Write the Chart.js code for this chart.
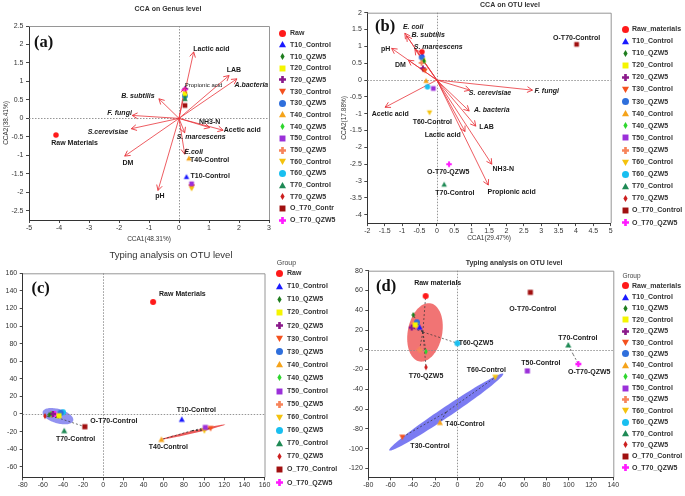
<!DOCTYPE html>
<html lang="en">
<head>
    <meta charset="UTF-8">
    <title>CCA and typing analysis</title>
    <script src="https://cdn.jsdelivr.net/npm/chart.js@4.4.0/dist/chart.umd.min.js"></script>
    <style>
        body {
            margin: 0;
            background: #fff;
            width: 685px;
            height: 496px;
            position: relative;
            overflow: hidden;
            font-family: Arial, "Liberation Sans", sans-serif;
        }
        canvas {
            position: absolute;
        }
    </style>
</head>
<body>
    <canvas id="chartA" width="345" height="246" style="left:0;top:0"></canvas>
    <canvas id="chartB" width="345" height="246" style="left:340px;top:0"></canvas>
    <canvas id="chartC" width="345" height="256" style="left:0;top:240px"></canvas>
    <canvas id="chartD" width="345" height="256" style="left:340px;top:240px"></canvas>

    <script>
        const FONT = 'Arial, "Liberation Sans", sans-serif';

        // groups (same order in every panel)
        const groupColors = ['#ff1a1a', '#1a1aff', '#1e7d1e', '#f5f500', '#8b1a8b', '#f4511e', '#2f6fdc', '#f5a31a',
            '#2ed62e', '#9b30d9', '#f7845a', '#f4c20d', '#19bff0', '#1f8a55', '#cc1f1f', '#a01010', '#ff1aff'];
        const groupShapes = ['circle', 'triangle', 'diamond', 'square', 'plus', 'invtri', 'circle', 'triangle',
            'diamond', 'square', 'plus', 'invtri', 'circle', 'triangle', 'diamond', 'square', 'plus'];

        const legendGenus = ['Raw', 'T10_Control', 'T10_QZW5', 'T20_Control', 'T20_QZW5', 'T30_Control', 'T30_QZW5',
            'T40_Control', 'T40_QZW5', 'T50_Control', 'T50_QZW5', 'T60_Control', 'T60_QZW5', 'T70_Control', 'T70_QZW5',
            'O_T70_Contr', 'O_T70_QZW5'];
        const legendOtu = ['Raw_materials', 'T10_Control', 'T10_QZW5', 'T20_Control', 'T20_QZW5', 'T30_Control', 'T30_QZW5',
            'T40_Control', 'T40_QZW5', 'T50_Control', 'T50_QZW5', 'T60_Control', 'T60_QZW5', 'T70_Control', 'T70_QZW5',
            'O_T70_Control', 'O_T70_QZW5'];
        const legendTypingC = ['Raw', 'T10_Control', 'T10_QZW5', 'T20_Control', 'T20_QZW5', 'T30_Control', 'T30_QZW5',
            'T40_Control', 'T40_QZW5', 'T50_Control', 'T50_QZW5', 'T60_Control', 'T60_QZW5', 'T70_Control', 'T70_QZW5',
            'O_T70_Control', 'O_T70_QZW5'];
        const legendTypingD = legendOtu;

        // (a) CCA on genus level
        const genusX = [-4.1, 0.25, 0.2, 0.2, 0.21, 0.42, 0.2, 0.33, 0.2, 0.42, 0.42, 0.42, 0.2, 0.2, 0.2, 0.2, 0.18];
        const genusY = [-0.45, -1.58, 0.6, 0.67, 0.8, -1.86, 0.62, -1.08, 0.56, -1.77, -1.8, -1.9, 0.6, 0.53, 0.55, 0.35, 0.77];
        const genusFront = [16, 3, 13, 15, 9, 11, 0, 1, 7];
        const genusFactors = ['Lactic acid', 'LAB', 'A.bacteria', 'Propionic acid', 'B. subtilis', 'F. fungi',
            'S.cerevisiae', 'DM', 'pH', 'E.coli', 'S. marcescens', 'NH3-N', 'Acetic acid'];
        const genusFactorX = [0.49, 1.67, 1.93, 0.19, -0.67, -1.56, -1.59, -1.81, -0.7, 0.19, 0.19, 1.02, 1.47];
        const genusFactorY = [1.8, 1.16, 1.07, 0.83, 0.53, 0.08, -0.28, -1.02, -1.95, -0.97, -0.39, -0.25, -0.32];
        const genusTicksX = [-5, -4, -3, -2, -1, 0, 1, 2, 3];
        const genusTicksY = [2.5, 2, 1.5, 1, 0.5, 0, -0.5, -1, -1.5, -2, -2.5];

        // (b) CCA on OTU level
        const otuX = [-0.43, -0.42, -0.37, -0.4, -0.4, -0.34, -0.44, -0.31, -0.36, -0.1, -0.44, -0.21, -0.27, 0.21, -0.39, 4.02, 0.35];
        const otuY = [0.84, 0.75, 0.57, 0.6, 0.35, 0.28, 0.67, -0.02, 0.55, -0.25, 0.51, -0.97, -0.2, -3.1, 0.3, 1.06, -2.5];
        const otuFront = [0, 6, 2, 10, 14, 5, 7, 9, 11, 12, 13, 15, 16];
        const otuFactors = ['E. coli', 'B. subtilis', 'S. marcescens', 'pH', 'DM', 'Acetic acid', 'S. cerevisiae',
            'F. fungi', 'A. bacteria', 'LAB', 'Lactic acid', 'NH3-N', 'Propionic acid'];
        const otuFactorX = [-0.92, -0.87, -0.63, -1.3, -0.82, -1.49, 0.95, 2.75, 0.93, 1.12, 0.81, 1.58, 1.48];
        const otuFactorY = [1.39, 1.31, 0.91, 0.94, 0.59, -0.81, -0.3, -0.3, -0.92, -1.37, -1.53, -2.5, -3.12];
        const otuTicksX = [-2, -1.5, -1, -0.5, 0, 0.5, 1, 1.5, 2, 2.5, 3, 3.5, 4, 4.5, 5];
        const otuTicksY = [2, 1.5, 1, 0.5, 0, -0.5, -1, -1.5, -2, -2.5, -3, -3.5, -4];

        // (c) typing analysis
        const typingCX = [49.4, 77.9, -53.6, -44, -50, 106.5, -42.4, 57.7, -52, 101.3, -51.3, 100.3, -40, -38.8, -57.9, -18.3, -48];
        const typingCY = [127.4, -6.1, -1, -2, 0, -16.4, 1.4, -29, 0, -15.3, -0.5, -19, 2, -19, -2.4, -14.5, 0];
        const typingCTicksX = [-80, -60, -40, -20, 0, 20, 40, 60, 80, 100, 120, 140, 160];
        const typingCTicksY = [160, 140, 120, 100, 80, 60, 40, 20, 0, -20, -40, -60];
        const typingCLinkCentres = [[-46, -4], [88, -19]];
        const typingCLinkMembers = [[2, 3, 4, 6, 8, 10, 12, 14, 16, 15], [5, 7, 9, 11]];

        // (d) typing analysis
        const typingDX = [-28.5, -33.9, -39.6, -37.8, -41, -49.5, -36.3, -15.7, -28.2, 62.8, -34, 34, 0, 99.6, -28.2, 65.5, 108.6];
        const typingDY = [54.4, 22.8, 35.2, 25.2, 22.5, -88.4, 27.8, -73.6, -1.8, -21.4, 0, -27.8, 6.6, 4.9, -17.7, 58.1, -14.4];
        const typingDTicksX = [-80, -60, -40, -20, 0, 20, 40, 60, 80, 100, 120, 140];
        const typingDTicksY = [80, 60, 40, 20, 0, -20, -40, -60, -80, -100, -120];
        const typingDLinkCentres = [[-31, 18], [-10, -63], [104, -4.7]];
        const typingDLinkMembers = [[0, 1, 2, 3, 4, 6, 8, 10, 12, 14], [5, 7, 11], [13, 16]];

        // text placed next to points and arrows (data units)
        const genusNotes = [
            ['Lactic acid', 1.08, 1.87, 'b'], ['LAB', 1.83, 1.32, 'b'], ['A.bacteria', 2.41, 0.91, 'i'],
            ['Propionic acid', 0.82, 0.89, 's'], ['B. subtilis', -1.37, 0.6, 'i'], ['F. fungi', -1.98, 0.15, 'i'],
            ['S.cerevisiae', -2.37, -0.37, 'i'], ['DM', -1.7, -1.2, 'b'], ['pH', -0.64, -2.1, 'b'],
            ['E.coli', 0.49, -0.9, 'i'], ['S. marcescens', 0.74, -0.5, 'i'], ['NH3-N', 1.02, -0.09, 'b'],
            ['Acetic acid', 2.11, -0.32, 'b'], ['Raw Materials', -3.48, -0.68, 'b'],
            ['T40-Control', 1.02, -1.14, 'b'], ['T10-Control', 1.04, -1.57, 'b']
        ];
        const otuNotes = [
            ['E. coli', -0.68, 1.56, 'i'], ['B. subtilis', -0.25, 1.35, 'i'], ['S. marcescens', 0.04, 0.98, 'i'],
            ['pH', -1.47, 0.92, 'b'], ['DM', -1.05, 0.43, 'b'], ['Acetic acid', -1.34, -1.02, 'b'],
            ['S. cerevisiae', 1.53, -0.4, 'i'], ['F. fungi', 3.16, -0.32, 'i'], ['A. bacteria', 1.58, -0.89, 'i'],
            ['LAB', 1.43, -1.41, 'b'], ['Lactic acid', 0.17, -1.63, 'b'], ['NH3-N', 1.91, -2.65, 'b'],
            ['Propionic acid', 2.15, -3.32, 'b'], ['O-T70-Control', 4.02, 1.24, 'b'],
            ['O-T70-QZW5', 0.33, -2.72, 'b'], ['T70-Control', 0.52, -3.35, 'b'], ['T60-Control', -0.13, -1.24, 'b']
        ];
        const typingCNotes = [
            ['Raw Materials', 78.5, 136.5, 'b'], ['T10-Control', 92.3, 4.5, 'b'], ['T40-Control', 64.6, -38, 'b'],
            ['O-T70-Control', 10.5, -7.7, 'b'], ['T70-Control', -27.5, -28.9, 'b']
        ];
        const typingDNotes = [
            ['Raw materials', -17.7, 67.9, 'b'], ['O-T70-Control', 67.6, 41.3, 'b'], ['T70-Control', 108.2, 11.6, 'b'],
            ['O-T70-QZW5', 118.4, -22.4, 'b'], ['T50-Control', 75, -13.9, 'b'], ['T60-Control', 26, -20.7, 'b'],
            ['T40-Control', 6.8, -75.2, 'b'], ['T30-Control', -24.6, -97.8, 'b'], ['T60-QZW5', 16.7, 7.3, 'b'],
            ['T70-QZW5', -28.2, -26.4, 'b']
        ];

        // group ellipses: centre, half major axis vector, half minor length (data units)
        const typingCEllipses = [
            { cx: -45, cy: -2.5, ux: 15, uy: -5.5, b: 8, color: 'rgba(110,110,235,0.75)' },
            { cx: 89, cy: -20.5, ux: 32, uy: 8.5, b: 1.5, color: 'rgba(230,60,60,0.85)' }
        ];
        const typingDEllipses = [
            { cx: -29.1, cy: 17.6, ux: 4.5, uy: 29.5, b: 15.5, color: 'rgba(238,85,85,0.82)' },
            { cx: -10, cy: -63, ux: 51.2, uy: 38.8, b: 5, color: 'rgba(100,100,240,0.85)' }
        ];

        const arrowRed = '#e8333a';

        function symbol(shape, color, size) {
            const c = document.createElement('canvas');
            const s = Math.ceil(size) + 2;
            c.width = s;
            c.height = s;
            const g = c.getContext('2d');
            const m = s / 2, r = size / 2;
            g.fillStyle = color;
            g.beginPath();
            if (shape === 'circle') {
                g.arc(m, m, r, 0, Math.PI * 2);
            } else if (shape === 'square') {
                g.rect(m - r * 0.85, m - r * 0.85, r * 1.7, r * 1.7);
            } else if (shape === 'triangle') {
                g.moveTo(m, m - r); g.lineTo(m + r, m + r * 0.8); g.lineTo(m - r, m + r * 0.8);
            } else if (shape === 'invtri') {
                g.moveTo(m - r, m - r * 0.8); g.lineTo(m + r, m - r * 0.8); g.lineTo(m, m + r);
            } else if (shape === 'diamond') {
                g.moveTo(m, m - r); g.lineTo(m + r * 0.6, m); g.lineTo(m, m + r); g.lineTo(m - r * 0.6, m);
            } else if (shape === 'plus') {
                const w = r * 0.38;
                g.rect(m - r, m - w, 2 * r, 2 * w);
                g.rect(m - w, m - r, 2 * w, 2 * r);
            }
            g.closePath();
            g.fill();
            return c;
        }

        function groupSets(labels, xs, ys, size, front) {
            return labels.map((lab, i) => ({
                label: lab,
                group: true,
                data: [{ x: xs[i], y: ys[i] }],
                pointStyle: symbol(groupShapes[i], groupColors[i], size),
                legendSymbol: symbol(groupShapes[i], groupColors[i], 7),
                pointRadius: 3,
                order: front && front.includes(i) ? -1 : 0
            }));
        }

        function arrowSets(xs, ys) {
            return xs.map((ex, i) => ({
                arrow: true,
                showLine: true,
                data: [{ x: 0, y: 0 }, { x: ex, y: ys[i] }],
                borderColor: arrowRed,
                borderWidth: 0.8,
                pointRadius: 0,
                order: 2
            }));
        }

        function linkSets(centres, members, xs, ys) {
            const sets = [];
            centres.forEach((c, k) => {
                members[k].forEach(i => {
                    sets.push({
                        showLine: true,
                        data: [{ x: c[0], y: c[1] }, { x: xs[i], y: ys[i] }],
                        borderColor: '#333',
                        borderWidth: 0.7,
                        borderDash: [2, 2],
                        pointRadius: 0,
                        order: 2
                    });
                });
            });
            return sets;
        }

        // drawing settings per canvas (pixels)
        const panels = {
            chartA: {
                title: ['CCA on Genus level', 168, 9.3, 'bold 7px'], letter: ['(a)', 34, 43],
                legend: { sx: 282.7, tx: 290, y0: 33.3, dy: 11.67 }, notes: genusNotes
            },
            chartB: {
                title: ['CCA on OTU level', 170, 4.6, 'bold 7px'], letter: ['(b)', 35, 27],
                legend: { sx: 285, tx: 292, y0: 29, dy: 12.1 }, notes: otuNotes
            },
            chartC: {
                title: ['Typing analysis on OTU level', 171, 15, '9.5px'], letter: ['(c)', 31.5, 48.3],
                legend: { sx: 279.3, tx: 287, y0: 33.3, dy: 13.08, head: ['Group', 276.7, 23.3, '7px'] },
                notes: typingCNotes, ellipses: typingCEllipses
            },
            chartD: {
                title: ['Typing analysis on OTU level', 174, 22.7, 'bold 7px'], letter: ['(d)', 36, 46.7],
                legend: { sx: 285.3, tx: 292, y0: 45.7, dy: 11.375, head: ['Group', 282.5, 36.7, '6.5px'] },
                notes: typingDNotes, ellipses: typingDEllipses
            }
        };

        const noteFonts = { b: 'bold 7px ', i: 'italic bold 7px ', s: '6px ' };

        const decor = {
            id: 'decor',
            beforeDatasetsDraw(chart) {
                const p = panels[chart.canvas.id];
                const { ctx, chartArea: a } = chart;
                const sx = chart.scales.x, sy = chart.scales.y;
                ctx.save();
                (p.ellipses || []).forEach(e => {
                    const len = Math.hypot(e.ux, e.uy);
                    const px = -e.uy / len * e.b, py = e.ux / len * e.b;
                    ctx.beginPath();
                    for (let i = 0; i <= 90; i++) {
                        const t = i / 90 * Math.PI * 2;
                        const X = sx.getPixelForValue(e.cx + e.ux * Math.cos(t) + px * Math.sin(t));
                        const Y = sy.getPixelForValue(e.cy + e.uy * Math.cos(t) + py * Math.sin(t));
                        if (i === 0) ctx.moveTo(X, Y); else ctx.lineTo(X, Y);
                    }
                    ctx.fillStyle = e.color;
                    ctx.fill();
                });
                const x0 = Math.round(sx.getPixelForValue(0)) + 0.5;
                const y0 = Math.round(sy.getPixelForValue(0)) + 0.5;
                ctx.strokeStyle = '#8a8a8a';
                ctx.lineWidth = 0.9;
                ctx.setLineDash([1.5, 1.5]);
                ctx.beginPath();
                ctx.moveTo(x0, a.top); ctx.lineTo(x0, a.bottom);
                ctx.moveTo(a.left, y0); ctx.lineTo(a.right, y0);
                ctx.stroke();
                ctx.restore();
            },
            afterDatasetsDraw(chart) {
                const { ctx } = chart;
                const sx = chart.scales.x, sy = chart.scales.y;
                ctx.save();
                ctx.strokeStyle = arrowRed;
                ctx.lineWidth = 0.9;
                chart.data.datasets.forEach(ds => {
                    if (!ds.arrow) return;
                    const x0 = sx.getPixelForValue(ds.data[0].x), y0 = sy.getPixelForValue(ds.data[0].y);
                    const x1 = sx.getPixelForValue(ds.data[1].x), y1 = sy.getPixelForValue(ds.data[1].y);
                    const ang = Math.atan2(y1 - y0, x1 - x0);
                    const L = 6;
                    ctx.beginPath();
                    ctx.moveTo(x1 - L * Math.cos(ang - 0.5), y1 - L * Math.sin(ang - 0.5));
                    ctx.lineTo(x1, y1);
                    ctx.lineTo(x1 - L * Math.cos(ang + 0.5), y1 - L * Math.sin(ang + 0.5));
                    ctx.stroke();
                });
                ctx.restore();
            },
            afterDraw(chart) {
                const p = panels[chart.canvas.id];
                const { ctx, chartArea: a } = chart;
                const sx = chart.scales.x, sy = chart.scales.y;
                ctx.save();
                // frame
                ctx.strokeStyle = '#8a8a8a';
                ctx.lineWidth = 0.9;
                ctx.beginPath();
                ctx.moveTo(a.left, a.top + 0.5); ctx.lineTo(a.right + 0.5, a.top + 0.5); ctx.lineTo(a.right + 0.5, a.bottom);
                ctx.stroke();

                ctx.textBaseline = 'middle';
                // notes
                ctx.fillStyle = '#1a1a1a';
                ctx.textAlign = 'center';
                p.notes.forEach(n => {
                    ctx.font = noteFonts[n[3]] + FONT;
                    ctx.fillText(n[0], sx.getPixelForValue(n[1]), sy.getPixelForValue(n[2]));
                });
                // title
                ctx.fillStyle = '#333';
                ctx.font = p.title[3] + ' ' + FONT;
                ctx.fillText(p.title[0], p.title[1], p.title[2]);
                // panel letter
                ctx.textAlign = 'left';
                ctx.fillStyle = '#111';
                ctx.font = 'bold 16.5px "Liberation Serif", "Times New Roman", serif';
                ctx.fillText(p.letter[0], p.letter[1], p.letter[2]);
                // legend
                const lg = p.legend;
                if (lg.head) {
                    ctx.fillStyle = '#444';
                    ctx.font = lg.head[3] + ' ' + FONT;
                    ctx.fillText(lg.head[0], lg.head[1], lg.head[2]);
                }
                ctx.fillStyle = '#333';
                ctx.font = 'bold 7px ' + FONT;
                let k = 0;
                chart.data.datasets.forEach(ds => {
                    if (!ds.group) return;
                    const y = lg.y0 + k * lg.dy;
                    const img = ds.legendSymbol;
                    ctx.drawImage(img, Math.round(lg.sx - img.width / 2), Math.round(y - img.height / 2));
                    ctx.fillText(ds.label, lg.tx, y);
                    k++;
                });
                ctx.restore();
            }
        };

        function axis(min, max, ticks, title, fit, horizontal, titlePad) {
            return {
                type: 'linear',
                min: min,
                max: max,
                afterBuildTicks: s => { s.ticks = ticks.map(v => ({ value: v })); },
                afterFit: s => { if (horizontal) s.height = fit; else s.width = fit; },
                ticks: {
                    font: { family: FONT, size: 7 },
                    color: '#333',
                    padding: horizontal ? 1 : 2.5,
                    autoSkip: false,
                    maxRotation: 0,
                    callback: v => String(v)
                },
                grid: { drawOnChartArea: false, drawTicks: true, tickLength: 3, tickColor: '#333', tickWidth: 0.9 },
                border: { display: true, color: '#333', width: 1 },
                title: {
                    display: !!title,
                    text: title || '',
                    font: { family: FONT, size: 6.5 },
                    color: '#333',
                    padding: titlePad
                }
            };
        }

        function makePanel(id, sets, pad, xAxis, yAxis) {
            return new Chart(document.getElementById(id), {
                type: 'scatter',
                data: { datasets: sets },
                options: {
                    responsive: false,
                    animation: false,
                    events: [],
                    layout: { padding: pad },
                    plugins: {
                        legend: { display: false },
                        tooltip: { enabled: false },
                        title: { display: false }
                    },
                    scales: { x: xAxis, y: yAxis }
                },
                plugins: [decor]
            });
        }

        makePanel('chartA',
            groupSets(legendGenus, genusX, genusY, 5.5, genusFront).concat(arrowSets(genusFactorX, genusFactorY)),
            { left: 0, top: 26, right: 76, bottom: 3 },
            axis(-5, 3, genusTicksX, 'CCA1(48.31%)', 23, true, { top: 0, bottom: 0 }),
            axis(-2.75, 2.5, genusTicksY, 'CCA2(38.41%)', 29, false, { top: 2, bottom: 0 }));

        makePanel('chartB',
            groupSets(legendOtu, otuX, otuY, 5.5, otuFront).concat(arrowSets(otuFactorX, otuFactorY)),
            { left: 0, top: 12.7, right: 74.3, bottom: 3.4 },
            axis(-2, 5, otuTicksX, 'CCA1(29.47%)', 19.5, true, { top: 0, bottom: 0 }),
            axis(-4.25, 2, otuTicksY, 'CCA2(17.88%)', 27.3, false, { top: 0, bottom: 0 }));

        makePanel('chartC',
            groupSets(legendTypingC, typingCX, typingCY, 6).concat(
                linkSets(typingCLinkCentres, typingCLinkMembers, typingCX, typingCY)),
            { left: 0, top: 33.3, right: 80.5, bottom: 2.7 },
            axis(-80, 160, typingCTicksX, '', 16, true, 0),
            axis(-72, 160, typingCTicksY, '', 22.7, false, 0));

        makePanel('chartD',
            groupSets(legendTypingD, typingDX, typingDY, 6).concat(
                linkSets(typingDLinkCentres, typingDLinkMembers, typingDX, typingDY)),
            { left: 0, top: 30.7, right: 71.7, bottom: 2.7 },
            axis(-80, 140, typingDTicksX, '', 16, true, 0),
            axis(-129, 80, typingDTicksY, '', 28.3, false, 0));
    </script>
</body>
</html>
